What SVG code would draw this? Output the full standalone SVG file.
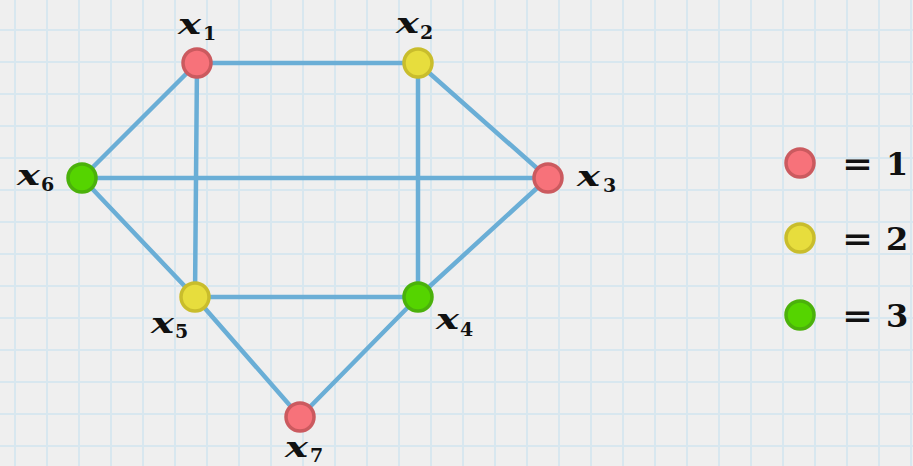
<svg xmlns="http://www.w3.org/2000/svg" width="913" height="466" viewBox="0 0 913 466">
<style>
.grid{stroke:#d8e7ef;stroke-width:2;fill:none}
.edge{stroke:#6aaed6;stroke-width:4.5;fill:none;stroke-linecap:round}
.c1{fill:#f7727a;stroke:#cb5a5f;stroke-width:3.5}
.c2{fill:#e7dd3d;stroke:#c9bd2c;stroke-width:3.5}
.c3{fill:#55d400;stroke:#4bb10b;stroke-width:3.5}
.lx{font-family:"DejaVu Serif",serif;font-style:italic;font-weight:bold;font-size:27px;fill:#111}
.ls{font-family:"DejaVu Serif",serif;font-weight:bold;font-size:19px;fill:#111}
.lg{font-family:"DejaVu Serif",serif;font-weight:bold;font-size:32px;fill:#111}
</style>
<rect width="913" height="466" fill="#efefef"/>
<path class="grid" d="M15 0V466M47 0V466M79 0V466M111 0V466M143 0V466M175 0V466M207 0V466M239 0V466M271 0V466M303 0V466M335 0V466M367 0V466M399 0V466M431 0V466M463 0V466M495 0V466M527 0V466M559 0V466M591 0V466M623 0V466M655 0V466M687 0V466M719 0V466M751 0V466M783 0V466M815 0V466M847 0V466M879 0V466M911 0V466M0 30H913M0 62H913M0 94H913M0 126H913M0 158H913M0 190H913M0 222H913M0 254H913M0 286H913M0 318H913M0 350H913M0 382H913M0 414H913M0 446H913"/>
<g id="edges">
<line class="edge" x1="197" y1="63" x2="418" y2="63"/>
<line class="edge" x1="197" y1="63" x2="82" y2="178"/>
<line class="edge" x1="197" y1="63" x2="195" y2="297"/>
<line class="edge" x1="418" y1="63" x2="548" y2="178"/>
<line class="edge" x1="418" y1="63" x2="418" y2="297"/>
<line class="edge" x1="82" y1="178" x2="548" y2="178"/>
<line class="edge" x1="82" y1="178" x2="195" y2="297"/>
<line class="edge" x1="548" y1="178" x2="418" y2="297"/>
<line class="edge" x1="195" y1="297" x2="418" y2="297"/>
<line class="edge" x1="195" y1="297" x2="300" y2="417"/>
<line class="edge" x1="418" y1="297" x2="300" y2="417"/>
</g>
<g id="x1"><circle class="c1" cx="197" cy="63" r="14"/><text class="lx" x="178" y="34" textLength="23" lengthAdjust="spacingAndGlyphs">x</text><text class="ls" x="203" y="40">1</text></g>
<g id="x2"><circle class="c2" cx="418" cy="63" r="14"/><text class="lx" x="396" y="33" textLength="23" lengthAdjust="spacingAndGlyphs">x</text><text class="ls" x="420" y="39">2</text></g>
<g id="x3"><circle class="c1" cx="548" cy="178" r="14"/><text class="lx" x="577" y="186" textLength="23" lengthAdjust="spacingAndGlyphs">x</text><text class="ls" x="603" y="192">3</text></g>
<g id="x4"><circle class="c3" cx="418" cy="297" r="14"/><text class="lx" x="436" y="329" textLength="23" lengthAdjust="spacingAndGlyphs">x</text><text class="ls" x="460" y="336">4</text></g>
<g id="x5"><circle class="c2" cx="195" cy="297" r="14"/><text class="lx" x="151" y="333" textLength="23" lengthAdjust="spacingAndGlyphs">x</text><text class="ls" x="175" y="338">5</text></g>
<g id="x6"><circle class="c3" cx="82" cy="178" r="14"/><text class="lx" x="17" y="185" textLength="23" lengthAdjust="spacingAndGlyphs">x</text><text class="ls" x="41" y="191">6</text></g>
<g id="x7"><circle class="c1" cx="300" cy="417" r="14"/><text class="lx" x="285" y="457" textLength="23" lengthAdjust="spacingAndGlyphs">x</text><text class="ls" x="310" y="462">7</text></g>
<g id="legend">
<circle class="c1" cx="800" cy="163" r="14"/>
<text class="lg" x="842" y="175" textLength="31" lengthAdjust="spacingAndGlyphs">=</text><text class="lg" x="886" y="175">1</text>
<circle class="c2" cx="800" cy="238" r="14"/>
<text class="lg" x="842" y="250" textLength="31" lengthAdjust="spacingAndGlyphs">=</text><text class="lg" x="886" y="250">2</text>
<circle class="c3" cx="800" cy="315" r="14"/>
<text class="lg" x="842" y="327" textLength="31" lengthAdjust="spacingAndGlyphs">=</text><text class="lg" x="886" y="327">3</text>
</g>
</svg>
